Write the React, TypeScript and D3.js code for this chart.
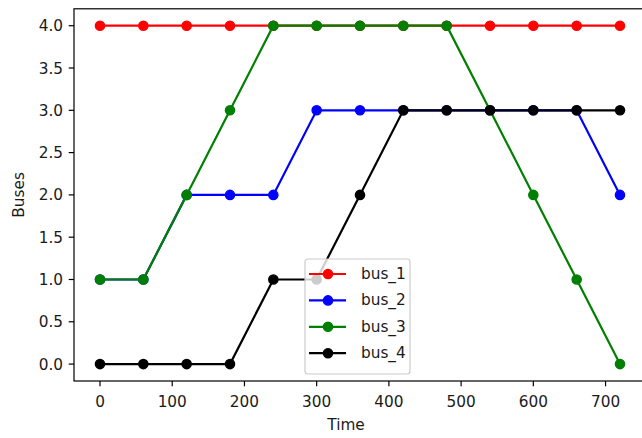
import React from "react";
import * as d3 from "d3";

// Chart data
const times = [0, 60, 120, 180, 240, 300, 360, 420, 480, 540, 600, 660, 720];
const bus1 = [4, 4, 4, 4, 4, 4, 4, 4, 4, 4, 4, 4, 4];
const bus2 = [1, 1, 2, 2, 2, 3, 3, 3, 3, 3, 3, 3, 2];
const bus3 = [1, 1, 2, 3, 4, 4, 4, 4, 4, 3, 2, 1, 0];
const bus4 = [0, 0, 0, 0, 1, 1, 2, 3, 3, 3, 3, 3, 3];
const seriesNames = ["bus_1", "bus_2", "bus_3", "bus_4"];
const seriesColors = ["#ff0000", "#0000ff", "#008000", "#000000"];
const xTicks = [0, 100, 200, 300, 400, 500, 600, 700];
const yTicks = [0, 0.5, 1, 1.5, 2, 2.5, 3, 3.5, 4];

const W = 642;
const H = 438;
const plot = { left: 74, right: 646, top: 8.8, bottom: 381 };
const FONT = "DejaVu Sans, sans-serif";
const FS = 15.3;
const TEXT = "#1a1a1a";

const App = () => {
  const allSeries = [bus1, bus2, bus3, bus4];

  const x = d3.scaleLinear().domain([-36, 756]).range([plot.left, plot.right]);
  const y = d3.scaleLinear().domain([-0.2, 4.2]).range([plot.bottom, plot.top]);

  const line = d3
    .line<number>()
    .x((_, i) => x(times[i]))
    .y((d) => y(d));

  const fmt = d3.format(".1f");

  // legend layout
  const lg = { x: 305, y: 259, w: 105, h: 115, row: 26.4, first: 15 };

  return (
    <svg
      width={W}
      height={H}
      style={{ position: "absolute", left: 0, top: 0, background: "#fff" }}
      fontFamily={FONT}
    >
      <rect x={0} y={0} width={W} height={H} fill="#fff" />

      {/* series */}
      {allSeries.map((s, k) => (
        <g key={seriesNames[k]}>
          <path d={line(s) || ""} fill="none" stroke={seriesColors[k]} strokeWidth={2.2} />
          {s.map((v, i) => (
            <circle
              key={i}
              cx={x(times[i])}
              cy={y(v)}
              r={4.6}
              fill={seriesColors[k]}
              stroke={seriesColors[k]}
              strokeWidth={1.4}
            />
          ))}
        </g>
      ))}

      {/* spines */}
      <rect
        x={plot.left}
        y={plot.top}
        width={plot.right - plot.left}
        height={plot.bottom - plot.top}
        fill="none"
        stroke="#000"
        strokeWidth={1.2}
      />

      {/* x axis */}
      {xTicks.map((t) => (
        <g key={t} transform={`translate(${x(t)},${plot.bottom})`}>
          <line y1={0} y2={5.3} stroke="#000" strokeWidth={1.2} />
          <text y={26} textAnchor="middle" fontSize={FS} fill={TEXT}>
            {t}
          </text>
        </g>
      ))}
      <text x={(plot.left + plot.right) / 2 - 14} y={430} textAnchor="middle" fontSize={FS} fill={TEXT}>
        Time
      </text>

      {/* y axis */}
      {yTicks.map((t) => (
        <g key={t} transform={`translate(${plot.left},${y(t)})`}>
          <line x1={0} x2={-5.3} stroke="#000" strokeWidth={1.2} />
          <text x={-11} dy="0.36em" textAnchor="end" fontSize={FS} fill={TEXT}>
            {fmt(t)}
          </text>
        </g>
      ))}
      <text
        transform={`translate(24,${(plot.top + plot.bottom) / 2}) rotate(-90)`}
        textAnchor="middle"
        fontSize={FS}
        fill={TEXT}
      >
        Buses
      </text>

      {/* legend */}
      <rect
        x={lg.x}
        y={lg.y}
        width={lg.w}
        height={lg.h}
        rx={3}
        fill="#fff"
        fillOpacity={0.8}
        stroke="#cccccc"
        strokeWidth={1.2}
      />
      {seriesNames.map((name, k) => {
        const cy = lg.y + lg.first + k * lg.row;
        return (
          <g key={name}>
            <line x1={lg.x + 4} x2={lg.x + 41} y1={cy} y2={cy} stroke={seriesColors[k]} strokeWidth={2.2} />
            <circle cx={lg.x + 23} cy={cy} r={4.6} fill={seriesColors[k]} stroke={seriesColors[k]} strokeWidth={1.4} />
            <text x={lg.x + 56} y={cy} dy="0.33em" fontSize={FS} fill={TEXT}>
              {name}
            </text>
          </g>
        );
      })}
    </svg>
  );
};

export default App;
